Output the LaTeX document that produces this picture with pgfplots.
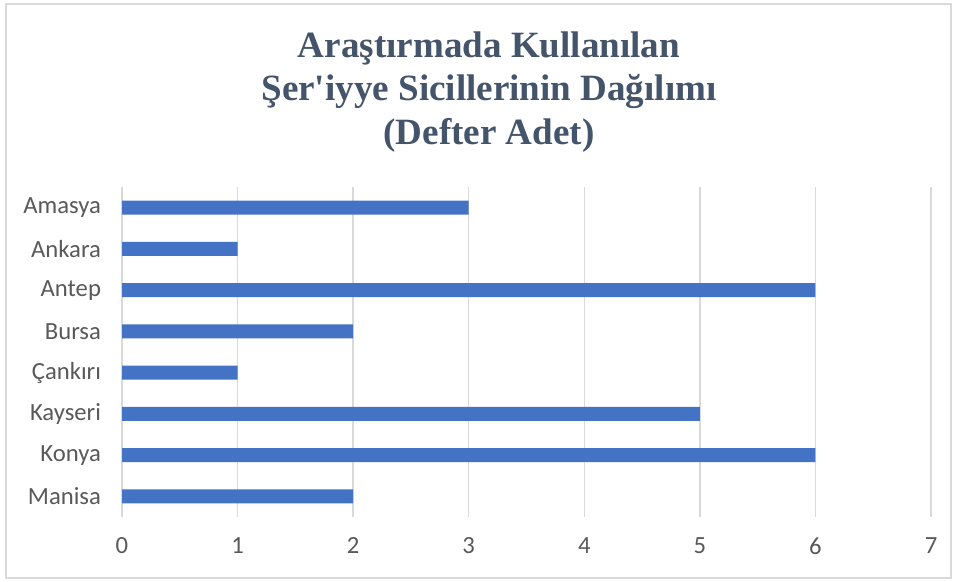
\documentclass[border=0pt]{standalone}
\usepackage{pgfplots}
\pgfplotsset{compat=1.18}
\usepackage{fontspec}
\setmainfont{Carlito}
\newfontfamily\titlefont{Liberation Serif}
\definecolor{barblue}{HTML}{4472C4}
\definecolor{titlecol}{HTML}{44546A}
\definecolor{labelcol}{HTML}{595959}
\definecolor{gridcol}{HTML}{D9D9D9}
\begin{document}
\begin{tikzpicture}
% canvas 955x581 px, 1px = 0.75pt
\useasboundingbox (0pt,0pt) rectangle (716.25pt,435.75pt);
\path[fill=white] (0pt,0pt) rectangle (716.25pt,435.75pt);
\draw[gridcol, line width=1.1pt] (4.5pt,2.25pt) rectangle (713.25pt,432.75pt);
\node[font=\titlefont\bfseries\fontsize{27.8}{32.6}\selectfont, text=titlecol, align=center] at (366.75pt,367pt) {Araştırmada Kullanılan\\Şer'iyye Sicillerinin Dağılımı\\(Defter Adet)};
\begin{axis}[
  at={(91.5pt,48pt)}, anchor=south west,
  scale only axis, width=606.75pt, height=247.5pt,
  xbar, bar width=10.5pt,
  xmin=0, xmax=7, ymin=-0.5, ymax=7.5,
  y dir=reverse,
  xtick={0,...,7}, ytick={0,...,7},
  yticklabels={Amasya,Ankara,Antep,Bursa,Çankırı,Kayseri,Konya,Manisa},
  xmajorgrids, major grid style={gridcol, line width=1.1pt},
  axis line style={draw=none}, tick style={draw=none},
  ticklabel style={font=\fontsize{18.5}{20}\selectfont, text=labelcol},
  xticklabel style={yshift=-12pt},
  yticklabel style={xshift=-8pt},
  /pgf/number format/assume math mode=true,
]
\addplot[fill=barblue, draw=none] coordinates {(3,0) (1,1) (6,2) (2,3) (1,4) (5,5) (6,6) (2,7)};
\end{axis}
\end{tikzpicture}
\end{document}
